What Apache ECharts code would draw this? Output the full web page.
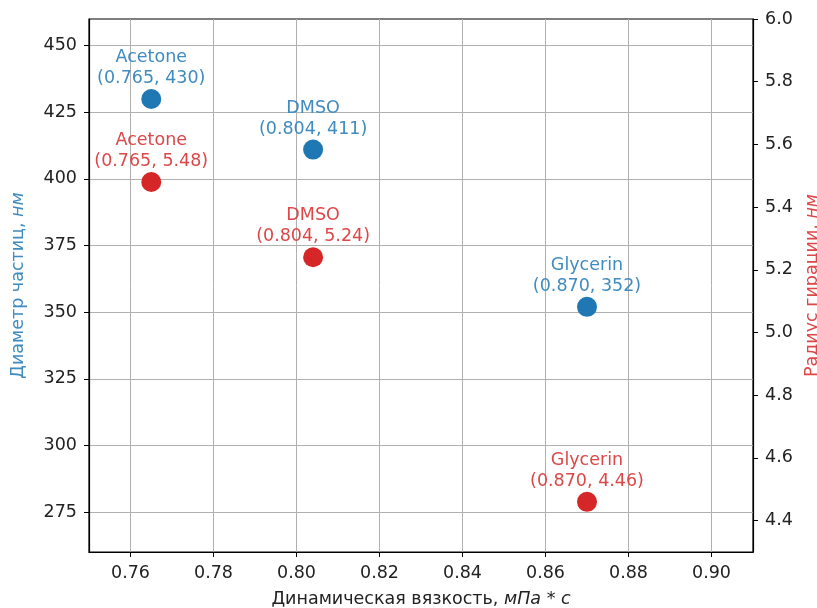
<!DOCTYPE html>
<html>
<head>
<meta charset="utf-8">
<script src="https://cdn.jsdelivr.net/npm/echarts@6.0.0/dist/echarts.min.js"></script>
<style>
  html, body { margin: 0; padding: 0; background: #fff; }
  #chart { width: 817px; height: 608px; }
</style>
</head>
<body>
<div id="chart"></div>
<script>
// данные с графика
var solvents = ['Acetone', 'DMSO', 'Glycerin'];
var viscosity = [0.765, 0.804, 0.870];
var diameter = [430, 411, 352];
var gyration = [5.48, 5.24, 4.46];

// подписи делений
var xTicks = [0.76, 0.78, 0.80, 0.82, 0.84, 0.86, 0.88, 0.90];
var leftTicks = [275, 300, 325, 350, 375, 400, 425, 450];
var rightTicks = [4.4, 4.6, 4.8, 5.0, 5.2, 5.4, 5.6, 5.8, 6.0];

var BLUE = '#1f77b4', RED = '#d62728';
var BLUE_TXT = '#408bbf', RED_TXT = '#dc4748';
var FONT = 'DejaVu Sans';
var FS = 17.5;

var chart = echarts.init(document.getElementById('chart'));

function pts(ys) {
  return viscosity.map(function (x, i) { return { name: solvents[i], value: [x, ys[i]] }; });
}

function axisBase(ticks, fmt) {
  return {
    axisLine: { show: true, onZero: false, lineStyle: { color: '#000', width: 1.2 } },
    axisTick: { show: true, inside: false, length: 5, customValues: ticks, lineStyle: { color: '#000', width: 1 } },
    axisLabel: { customValues: ticks, color: '#222', fontFamily: FONT, fontSize: FS, margin: 12, formatter: fmt },
    splitLine: { show: true, customValues: ticks, lineStyle: { color: '#b0b0b0', width: 1 } }
  };
}

function richName(color) {
  return {
    rich: {
      a: { fontFamily: FONT, fontSize: FS, color: color },
      b: { fontFamily: FONT, fontSize: FS, color: color, fontStyle: 'italic' }
    }
  };
}

var xAxis = Object.assign(axisBase(xTicks, function (v) { return v.toFixed(2); }), {
  type: 'value', min: 0.75, max: 0.91,
  name: '{a|Динамическая вязкость, }{b|мПа * с}',
  nameLocation: 'middle', nameGap: 38,
  nameTextStyle: richName('#222')
});

var yLeft = Object.assign(axisBase(leftTicks, function (v) { return String(Math.round(v)); }), {
  type: 'value', min: 260, max: 460, position: 'left',
  name: '{a|Диаметр частиц, }{b|нм}',
  nameLocation: 'middle', nameRotate: 90, nameGap: 62,
  nameTextStyle: richName(BLUE_TXT)
});

var yRight = Object.assign(axisBase(rightTicks, function (v) { return v.toFixed(1); }), {
  type: 'value', min: 4.3, max: 6.0, position: 'right',
  name: '{a|Радиус гирации, }{b|нм}',
  nameLocation: 'middle', nameRotate: 90, nameGap: 49,
  nameTextStyle: richName(RED_TXT)
});
yRight.splitLine = { show: false };

function pointLabel(color, digits) {
  return {
    show: true, position: 'top', distance: 0,
    color: color, fontFamily: FONT, fontSize: FS, lineHeight: 21, align: 'center',
    formatter: function (p) {
      var y = digits ? p.value[1].toFixed(digits) : String(p.value[1]);
      return p.name + '\n(' + p.value[0].toFixed(3) + ', ' + y + ')';
    }
  };
}

var option = {
  animation: false,
  backgroundColor: '#fff',
  grid: {
    left: 89, right: 64, top: 19, bottom: 56,
    containLabel: false, outerBoundsMode: 'none',
    show: true, borderColor: '#000', borderWidth: 1.2, backgroundColor: 'transparent'
  },
  xAxis: xAxis,
  yAxis: [yLeft, yRight],
  series: [
    {
      name: 'diameter', type: 'scatter', yAxisIndex: 0,
      symbolSize: 20, itemStyle: { color: BLUE, opacity: 1 },
      label: pointLabel(BLUE_TXT, 0),
      data: pts(diameter)
    },
    {
      name: 'gyration', type: 'scatter', yAxisIndex: 1,
      symbolSize: 20, itemStyle: { color: RED, opacity: 1 },
      label: pointLabel(RED_TXT, 2),
      data: pts(gyration)
    }
  ]
};

chart.setOption(option);
</script>
</body>
</html>
